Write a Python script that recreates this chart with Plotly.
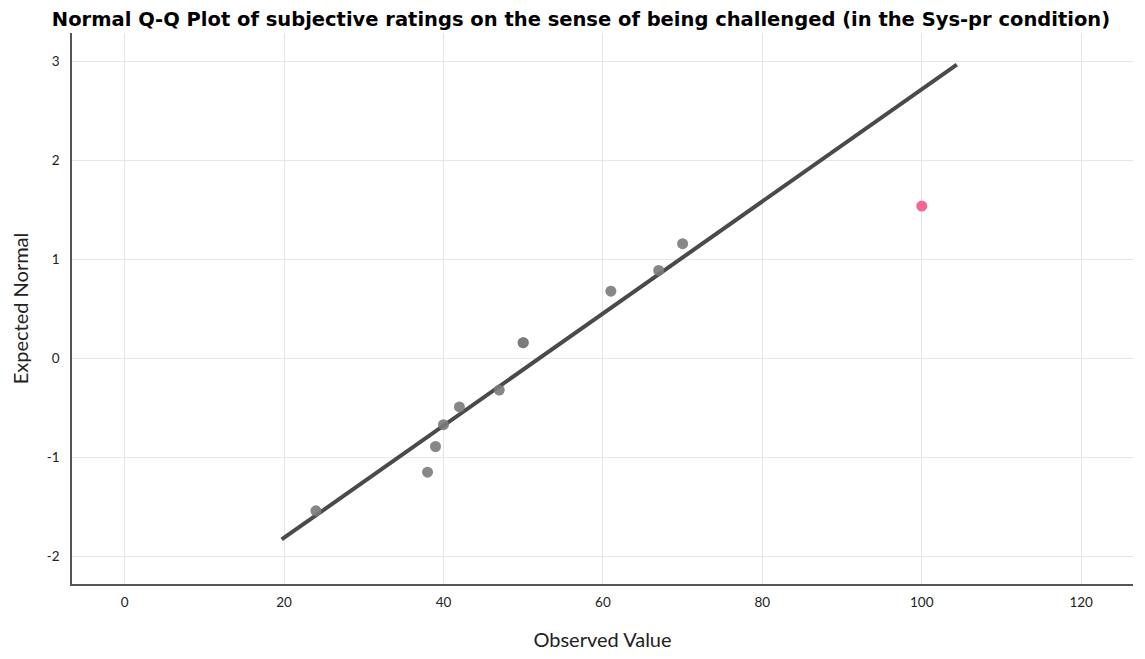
import plotly.graph_objects as go

observed = [24, 38, 39, 40, 42, 47, 50, 50, 61, 67, 70]
expected = [-1.54, -1.15, -0.89, -0.67, -0.49, -0.32, 0.16, 0.16, 0.68, 0.89, 1.16]
outlier_x = [100]
outlier_y = [1.54]
line_x = [19.7, 104.4]
line_y = [-1.83, 2.97]

x_ticks = [0, 20, 40, 60, 80, 100, 120]
y_ticks = [-2, -1, 0, 1, 2, 3]
y_tick_labels = ["-2", "-1", "0", "1", "2", "3"]

W, H = 1129, 643

fig = go.Figure()
fig.add_trace(go.Scatter(x=line_x, y=line_y, mode="lines",
                         line=dict(color="#4a4a4a", width=4), showlegend=False))
fig.add_trace(go.Scatter(x=observed, y=expected, mode="markers",
                         marker=dict(color="#7a7a7a", size=11, opacity=0.9), showlegend=False))
fig.add_trace(go.Scatter(x=outlier_x, y=outlier_y, mode="markers",
                         marker=dict(color="#f7649a", size=11), showlegend=False))

fig.update_layout(
    width=W, height=H,
    margin=dict(l=64, r=4, t=25, b=67, autoexpand=False),
    paper_bgcolor="white", plot_bgcolor="white",
    title=dict(text="<b>Normal Q-Q Plot of subjective ratings on the sense of being challenged (in the Sys-pr condition)</b>",
               x=573 / W, xanchor="center", xref="container", y=1 - 11 / H, yanchor="middle",
               yref="container", automargin=False,
               font=dict(family="DejaVu Sans", size=19.5, color="#000000")),
    xaxis=dict(range=[-6.6, 126.5], tickvals=x_ticks, showgrid=True, gridcolor="#e6e6e6",
               gridwidth=1, zeroline=False, showline=True, linecolor="#555555", linewidth=1.5,
               ticks="", ticklabelstandoff=5, automargin=False,
               tickfont=dict(family="Lato", size=13.5, color="#222222"),
               title=dict(text="Observed Value", standoff=28,
                          font=dict(family="Lato", size=20, color="#222222"))),
    yaxis=dict(range=[-2.28, 3.29], tickvals=y_ticks, ticktext=y_tick_labels, showgrid=True,
               gridcolor="#e6e6e6", gridwidth=1, zeroline=False, showline=True,
               linecolor="#555555", linewidth=1.5, automargin=False,
               ticks="", ticklabelstandoff=8, tickfont=dict(family="Lato", size=13.5, color="#222222"),
               title=dict(text="Expected Normal", standoff=15,
                          font=dict(family="Lato", size=20, color="#222222"))),
)

fig.write_html("out.html")
